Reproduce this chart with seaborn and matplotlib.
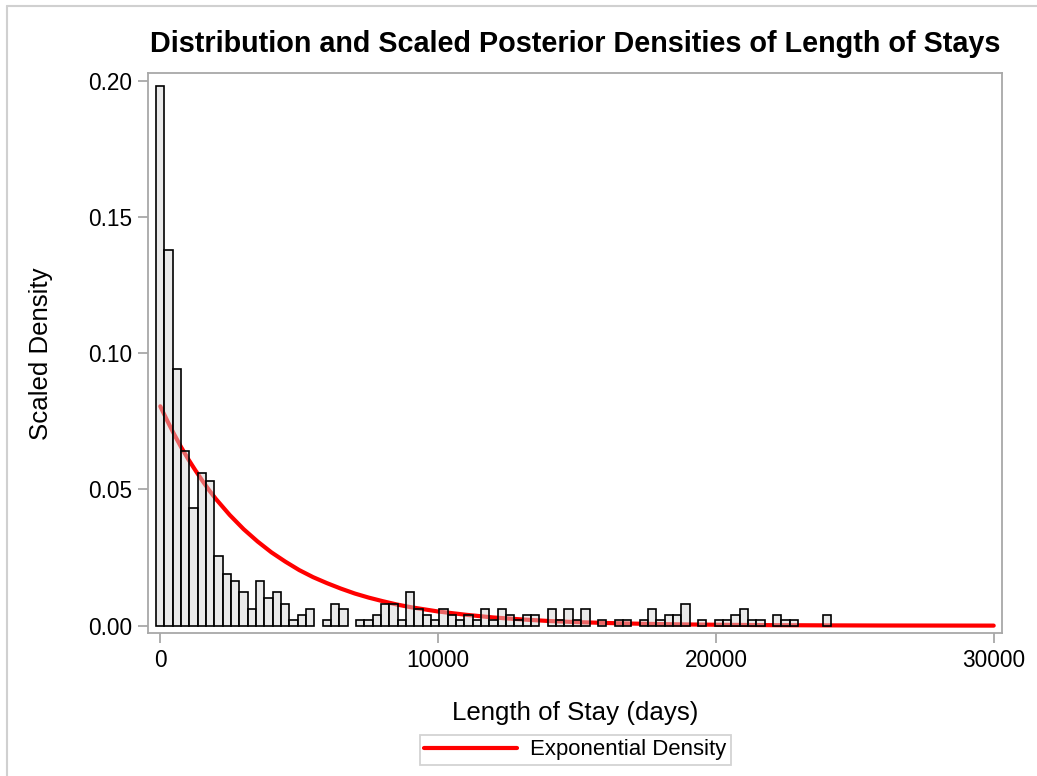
import numpy as np
import pandas as pd
import matplotlib
matplotlib.use("Agg")
import matplotlib.pyplot as plt
from matplotlib.lines import Line2D
import seaborn as sns

# ---- data ----
bin_width = 300
bin_centers = list(range(0, 24001, 300))   # 81 bins, midpoints 0..24000
bar_heights = [
    0.198, 0.138, 0.094, 0.064, 0.043, 0.056, 0.053, 0.0255, 0.019, 0.0165,
    0.0123, 0.006, 0.0165, 0.0102, 0.0123, 0.008, 0.002, 0.004, 0.006, 0.0,
    0.002, 0.008, 0.006, 0.0, 0.002, 0.002, 0.004, 0.008, 0.008, 0.002,
    0.0123, 0.006, 0.004, 0.002, 0.006, 0.004, 0.002, 0.004, 0.002, 0.006,
    0.002, 0.006, 0.004, 0.002, 0.004, 0.004, 0.0, 0.006, 0.002, 0.006,
    0.002, 0.006, 0.0, 0.002, 0.0, 0.002, 0.002, 0.0, 0.002, 0.006,
    0.002, 0.004, 0.004, 0.008, 0.0, 0.002, 0.0, 0.002, 0.002, 0.004,
    0.006, 0.002, 0.002, 0.0, 0.004, 0.002, 0.002, 0.0, 0.0, 0.0,
    0.004,
]
curve_x = [0, 250, 500, 750, 1000, 1250, 1500, 1750, 2000, 2500, 3000, 3500,
           4000, 4500, 5000, 5500, 6000, 6500, 7000, 7500, 8000, 8500, 9000,
           9500, 10000, 11000, 12000, 13000, 14000, 15000, 16000, 17000, 18000,
           19000, 20000, 22000, 24000, 26000, 28000, 30000]
curve_y = [0.0805, 0.0752, 0.0702, 0.0655, 0.0612, 0.0572, 0.0534, 0.0498,
           0.0465, 0.0406, 0.0354, 0.0309, 0.0269, 0.0235, 0.0204, 0.0178,
           0.0156, 0.0136, 0.0118, 0.0103, 0.0090, 0.0078, 0.0068, 0.0060,
           0.0052, 0.0040, 0.0030, 0.0023, 0.0017, 0.0013, 0.0010, 0.00076,
           0.00058, 0.00044, 0.00034, 0.00019, 0.00011, 0.00006, 0.00004,
           0.00002]
x_ticks = [0, 10000, 20000, 30000]
y_ticks = [0.00, 0.05, 0.10, 0.15, 0.20]

sns.set_theme(style="white")
plt.rcParams["font.family"] = ["Liberation Sans", "DejaVu Sans"]
plt.rcParams["text.color"] = "black"

W, H = 1037, 776
fig = plt.figure(figsize=(W / 100, H / 100), dpi=100)
ax = fig.add_axes([148.3 / W, 1 - 633.3 / H, (1001.7 - 148.3) / W, (633.3 - 72.7) / H])

hist_df = pd.DataFrame({"stay": bin_centers, "h": bar_heights})
edges = [c - bin_width / 2 for c in bin_centers] + [bin_centers[-1] + bin_width / 2]

sns.lineplot(x=curve_x, y=curve_y, ax=ax, color="red", linewidth=3.0,
             zorder=1, legend=False)
sns.histplot(data=hist_df, x="stay", weights="h", bins=edges, stat="count",
             ax=ax, color="#d4d4d4", edgecolor="black", linewidth=1.2)
for p in list(ax.patches):
    p.set_facecolor((0.83, 0.83, 0.83, 0.48))
    p.set_edgecolor("black")
    p.set_zorder(2)
    if p.get_height() <= 0:
        p.remove()

ax.set_xlim(-432, 30288)
ax.set_ylim(-0.0028, 0.2029)
ax.set_xticks(x_ticks)
ax.set_xticklabels([str(t) for t in x_ticks])
ax.set_yticks(y_ticks)
ax.set_yticklabels([f"{t:.2f}" for t in y_ticks])
ax.set_xlabel("")
ax.set_ylabel("")
for s in ax.spines.values():
    s.set_color("#a8a8a8")
    s.set_linewidth(1.3)
ax.tick_params(axis="both", which="both", direction="out", length=7.5, width=1.3,
               color="#a8a8a8", labelsize=16.3, pad=4, labelcolor="black",
               bottom=True, left=True)

fig.text(575 / W, 1 - 51.7 / H, "Distribution and Scaled Posterior Densities of Length of Stays",
         ha="center", va="baseline", fontsize=20.7, fontweight="bold", color="black")
fig.text(575 / W, 1 - 720 / H, "Length of Stay (days)", ha="center", va="baseline",
         fontsize=18.6, color="black")
fig.text(41 / W, 1 - 354 / H, "Scaled Density", ha="center", va="center",
         rotation=90, fontsize=18.6, color="black")

handles = [Line2D([0], [0], color="red", linewidth=3.0)]
leg = fig.legend(handles, ["Exponential Density"], loc="center",
                 bbox_to_anchor=(575.5 / W, 1 - 750 / H), fontsize=15.9,
                 frameon=True, fancybox=False, handlelength=4.2,
                 borderpad=0.2, handletextpad=0.6, borderaxespad=0)
for t in leg.get_texts():
    t.set_color("black")
leg.get_frame().set_edgecolor("#c8c8c8")
leg.get_frame().set_linewidth(1.3)

fig.add_artist(Line2D([7 / W, 7 / W], [0, 1 - 6 / H], color="#d0d0d0", linewidth=1.5,
                      transform=fig.transFigure))
fig.add_artist(Line2D([7 / W, 1], [1 - 6 / H, 1 - 6 / H], color="#d0d0d0", linewidth=1.5,
                      transform=fig.transFigure))

fig.savefig("out.png", dpi=100)
